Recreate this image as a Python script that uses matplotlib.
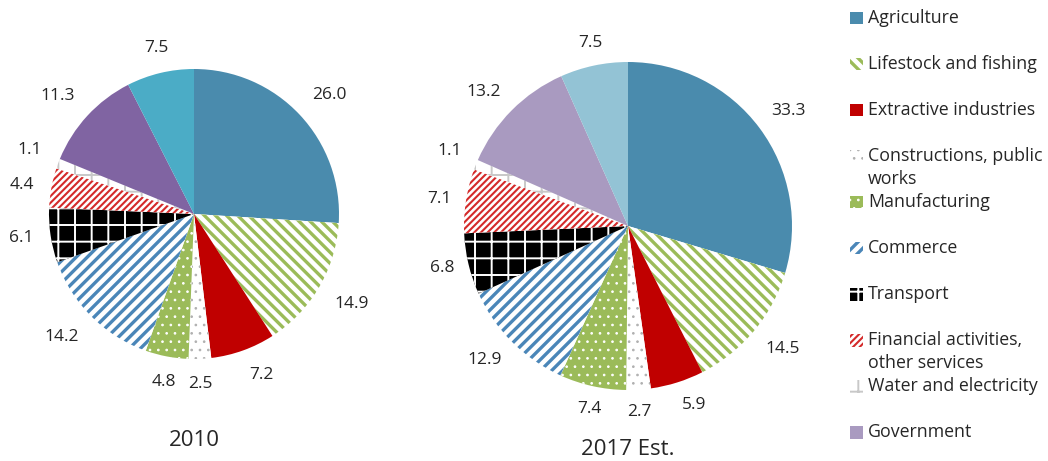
import numpy as np
import matplotlib
matplotlib.use("Agg")
import matplotlib.pyplot as plt
from matplotlib.patches import Rectangle

plt.rcParams['font.family'] = ['Open Sans', 'DejaVu Sans']

categories = ["Agriculture", "Lifestock and fishing", "Extractive industries",
              "Constructions, public\nworks", "Manufacturing", "Commerce", "Transport",
              "Financial activities,\nother services", "Water and electricity",
              "Government", "Other"]
values_2010 = [26.0, 14.9, 7.2, 2.5, 4.8, 14.2, 6.1, 4.4, 1.1, 11.3, 7.5]
values_2017 = [33.3, 14.5, 5.9, 2.7, 7.4, 12.9, 6.8, 7.1, 1.1, 13.2, 7.5]
titles = ["2010", "2017 Est."]

# style: (facecolor, hatchcolor, hatch, hatch linewidth)
styles_2010 = [
    ("#4A8BAD", "#4A8BAD", None, 0),
    ("white", "#9BBB59", "\\" * 3, 2.4),
    ("#C00000", "#C00000", None, 0),
    ("white", "#B0B0B0", "..", 0.7),
    ("#9BBB59", "white", "..", 0.7),
    ("white", "#4A86B8", "///", 2.4),
    ("black", "white", "+", 1.4),
    ("white", "#D42A2A", "/////", 1.5),
    ("white", "#C8C8C8", "+", 1.4),
    ("#8064A2", "#8064A2", None, 0),
    ("#4BACC6", "#4BACC6", None, 0),
]
styles_2017 = list(styles_2010)
styles_2017[9] = ("#A99AC0", "#A99AC0", None, 0)
styles_2017[10] = ("#93C3D5", "#93C3D5", None, 0)

W, H = 1048, 461
fig = plt.figure(figsize=(W / 100, H / 100), dpi=100)
TXT = "#262626"

def add_pie(cx, cy, r, vals, styles, title, title_y, d):
    ax = fig.add_axes([(cx - r) / W, (H - cy - r) / H, 2 * r / W, 2 * r / H])
    wedges, _ = ax.pie(vals, startangle=90, counterclock=False, radius=1,
                       wedgeprops=dict(linewidth=0))
    total = sum(vals)
    for w, (fc, hc, hatch, hlw) in zip(wedges, styles):
        w.set_facecolor(fc)
        w.set_edgecolor(hc)
        w.set_linewidth(0)
        if hatch:
            w.set_hatch(hatch)
            if hasattr(w, "set_hatch_linewidth"):
                w.set_hatch_linewidth(hlw)
    cum = 0
    for v in vals:
        mid = (cum + v / 2) / total * 2 * np.pi
        cum += v
        dx, dy = np.sin(mid), np.cos(mid)
        ha = "left" if dx > 0.25 else ("right" if dx < -0.25 else "center")
        va = "bottom" if dy > 0.3 else ("top" if dy < -0.3 else "center")
        ax.text(d * dx, d * dy, f"{v:.1f}", ha=ha, va=va, fontsize=12.5,
                color=TXT, clip_on=False)
    ax.set_xlim(-1, 1)
    ax.set_ylim(-1, 1)
    ax.set_aspect("equal")
    ax.axis("off")
    fig.text(cx / W, 1 - title_y / H, title, ha="center", va="center",
             fontsize=16, color=TXT)

add_pie(194, 214, 145, values_2010, styles_2010, titles[0], 440, 1.12)
add_pie(628, 226, 164, values_2017, styles_2017, titles[1], 449, 1.09)

# legend
for i, (name, (fc, hc, hatch, hlw)) in enumerate(zip(categories[:10], styles_2017[:10])):
    y = 18 + 46 * i
    rect = Rectangle((850 / W, 1 - (y + 6.5) / H), 12.5 / W, 12.5 / H,
                     transform=fig.transFigure, facecolor=fc, edgecolor=hc,
                     linewidth=0, hatch=hatch)
    if hatch and hasattr(rect, "set_hatch_linewidth"):
        rect.set_hatch_linewidth(hlw)
    fig.add_artist(rect)
    for j, ln in enumerate(name.split("\n")):
        fig.text(868 / W, 1 - (y + 23 * j) / H, ln, ha="left", va="center",
                 fontsize=12.8, color=TXT)

fig.savefig("out.png", dpi=100)
